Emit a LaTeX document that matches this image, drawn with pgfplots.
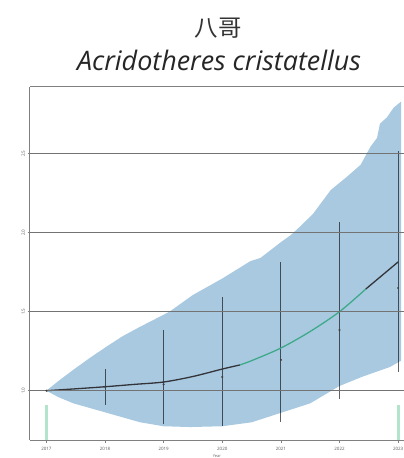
\documentclass[border=0pt]{standalone}
\usepackage{pgfplots}
\pgfplotsset{compat=1.18}
\usepackage{fontspec}
\setmainfont{Open Sans}
\newfontfamily\cjk{Noto Sans CJK SC}

\definecolor{band}{RGB}{169,201,224}
\definecolor{trendline}{RGB}{50,52,58}
\definecolor{trendgreen}{RGB}{62,170,138}
\definecolor{mint}{RGB}{180,228,206}

\begin{document}
\begin{tikzpicture}[x=1bp,y=1bp]
  \begin{axis}[%
    at={(0,0)}, anchor=south west,
    scale only axis, width=374bp, height=353bp,
    /pgf/number format/assume math mode=true,
    % x-axis
    xmin=2016.72, xmax=2023.10,
    xtick={2017,2018,2019,2020,2021,2022,2023},
    xticklabels={2017,2018,2019,2020,2021,2022,2023},
    xlabel={Year},
    xlabel style={font=\fontsize{4}{4}\selectfont, text=black!60, yshift=3bp},
    % y-axis
    ymin=0.688, ymax=2.922,
    ytick={1,1.5,2,2.5},
    yticklabels={1.0,1.5,2.0,2.5},
    yticklabel style={rotate=90, anchor=south, yshift=-1bp},
    ymajorgrids=true,
    grid style={black!55, line width=0.8bp},
    % axis lines
    axis x line*=box, axis y line*=left,
    axis line style={black!50, line width=1bp},
    tick style={black!50, line width=0.6bp},
    xtick pos=bottom, ytick pos=left,
    tick align=outside, major tick length=2.5bp,
    every tick label/.append style={font=\fontsize{4.5}{5}\selectfont, text=black!65},
    xticklabel style={yshift=-1bp},
    axis on top,
    clip=false,
  ]

    % uncertainty band: upper edge forward, lower edge back
    \addplot [draw=none, fill=band] coordinates {
      (2017.00,1.000) (2017.20,1.060) (2017.45,1.130) (2017.75,1.210)
      (2018.03,1.280) (2018.30,1.345) (2018.60,1.405) (2019.10,1.500)
      (2019.50,1.606) (2020.00,1.710) (2020.48,1.820) (2020.65,1.840)
      (2021.00,1.940) (2021.17,1.985) (2021.33,2.040) (2021.55,2.120)
      (2021.85,2.270) (2022.13,2.355) (2022.36,2.430) (2022.53,2.545)
      (2022.64,2.600) (2022.69,2.690) (2022.81,2.730) (2022.92,2.790)
      (2023.05,2.830)
      (2023.05,1.190) (2022.86,1.150) (2022.40,1.090) (2022.00,1.030)
      (2021.50,0.920) (2021.00,0.860) (2020.50,0.800) (2020.00,0.775)
      (2019.45,0.770) (2019.00,0.775) (2018.60,0.800) (2018.03,0.860)
      (2017.46,0.920) (2017.20,0.960) (2017.00,1.000)
    } -- cycle;

    % data density bars
    \addplot [mint, line width=3bp] coordinates {(2017,0.688) (2017,0.910)};
    \addplot [mint, line width=3bp] coordinates {(2023,0.688) (2023,0.910)};

    % yearly estimates with intervals
    \addplot [only marks, mark=*, mark size=0.8bp, black!75,
      error bars/.cd, y dir=both, y explicit,
      error mark=none,
      error bar style={black, opacity=0.62, line width=1bp}]
    coordinates {
      (2017,1.000) += (0,0.000) -= (0,0.000)
      (2018,1.025) += (0,0.115) -= (0,0.115)
      (2019,1.040) += (0,0.344) -= (0,0.250)
      (2020,1.087) += (0,0.508) -= (0,0.310)
      (2021,1.195) += (0,0.621) -= (0,0.395)
      (2022,1.384) += (0,0.686) -= (0,0.434)
      (2023,1.650) += (0,0.870) -= (0,0.530)
    };

    % trend
    \addplot [trendline, line width=1.3bp, smooth] coordinates {
      (2017.0,1.000) (2017.5,1.012) (2018.0,1.025) (2018.5,1.040)
      (2019.0,1.055) (2019.5,1.090) (2020.0,1.137) (2020.3,1.163)
    };
    \addplot [trendgreen, line width=1.3bp, smooth] coordinates {
      (2020.3,1.163) (2020.5,1.190) (2021.0,1.270) (2021.5,1.375)
      (2022.0,1.500) (2022.45,1.644)
    };
    \addplot [trendline, line width=1.3bp] coordinates {
      (2022.45,1.644) (2023.0,1.815)
    };
  \end{axis}

  \node [font=\cjk\fontsize{23.5}{26}\selectfont, text=black!80] at (188bp,412bp) {八哥};
  \node [font=\itshape\fontsize{27}{30}\selectfont, text=black!85] at (189bp,380bp)
    {Acridotheres cristatellus};

  \pgfresetboundingbox
  \path (-30bp,-18bp) rectangle (374bp,440bp);
\end{tikzpicture}
\end{document}
